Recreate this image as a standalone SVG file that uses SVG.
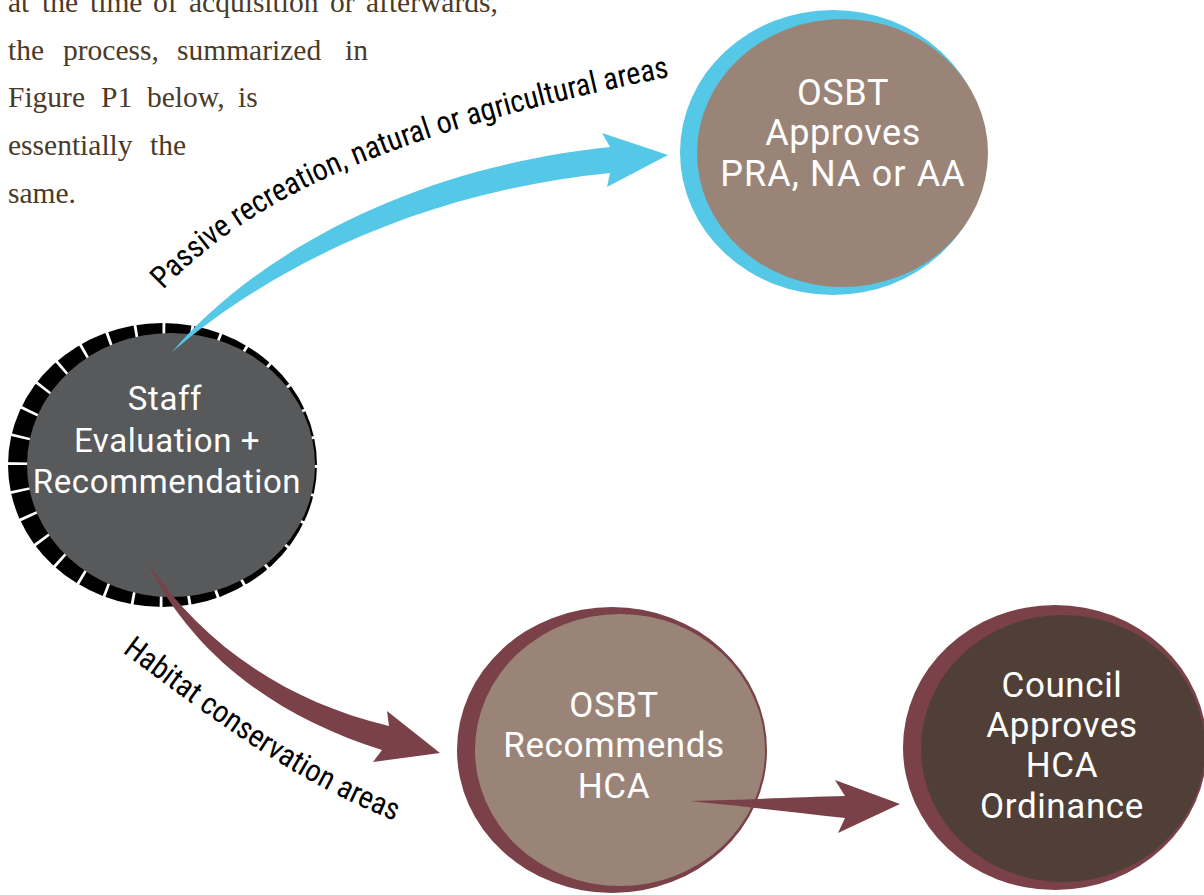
<svg xmlns="http://www.w3.org/2000/svg" width="1204" height="895" viewBox="0 0 1204 895">
  <style>
    .para { font-family: "Liberation Serif", "DejaVu Serif", serif; font-size: 29.5px; fill: #4a3b28; }
    .node-text { font-family: Roboto, "Liberation Sans", sans-serif; fill: #ffffff; text-anchor: middle; letter-spacing: 0.6px; }
    .label { font-family: "Roboto Condensed", Roboto, "Liberation Sans", sans-serif; font-size: 31px; fill: #000000; }
    .blue { fill: #55c8e8; }
    .maroon { fill: #7a4148; }
    .tan { fill: #9a8478; }
  </style>
  <rect width="1204" height="895" fill="#ffffff"/>

  <g id="paragraph" class="para">
    <text y="12"><tspan x="8">at</tspan><tspan x="42">the</tspan><tspan x="90">time</tspan><tspan x="153">of</tspan><tspan x="189">acquisition</tspan><tspan x="330">or</tspan><tspan x="366">afterwards,</tspan></text>
    <text y="60"><tspan x="8">the</tspan><tspan x="63">process,</tspan><tspan x="177">summarized</tspan><tspan x="345">in</tspan></text>
    <text y="107"><tspan x="8">Figure</tspan><tspan x="101">P1</tspan><tspan x="147">below,</tspan><tspan x="238">is</tspan></text>
    <text y="155"><tspan x="8">essentially</tspan><tspan x="150">the</tspan></text>
    <text y="203"><tspan x="8">same.</tspan></text>
  </g>

  <g id="node-staff">
    <ellipse cx="162.5" cy="465" rx="154.5" ry="142" fill="#000000"/>
    <ellipse cx="162.5" cy="465" rx="154.5" ry="142" fill="none" stroke="#ffffff" stroke-width="44" pathLength="32" stroke-dasharray="0.1 0.9"/>
    <ellipse cx="171" cy="465" rx="144" ry="132" fill="#58595b"/>
    <text class="node-text" font-size="33"><tspan x="165" y="410">Staff</tspan><tspan x="167" y="452">Evaluation +</tspan><tspan x="167" y="493">Recommendation</tspan></text>
  </g>

  <g id="node-osbt-approves">
    <ellipse cx="833" cy="152.5" rx="153" ry="142.5" class="blue"/>
    <ellipse cx="842.5" cy="153" rx="145.5" ry="134" class="tan"/>
    <text class="node-text" font-size="36"><tspan x="843" y="105">OSBT</tspan><tspan x="843" y="145">Approves</tspan><tspan x="843" y="186" letter-spacing="1.1">PRA, NA or AA</tspan></text>
  </g>

  <g id="node-osbt-recommends">
    <ellipse cx="612" cy="750" rx="155" ry="143" class="maroon"/>
    <ellipse cx="620" cy="750" rx="145" ry="136" class="tan"/>
    <text class="node-text" font-size="35"><tspan x="614" y="717">OSBT</tspan><tspan x="614" y="757">Recommends</tspan><tspan x="614" y="798">HCA</tspan></text>
  </g>

  <g id="node-council">
    <ellipse cx="1055" cy="747.5" rx="152" ry="142.5" class="maroon"/>
    <ellipse cx="1063" cy="748.5" rx="142" ry="133.5" fill="#4f3f37"/>
    <text class="node-text" font-size="35"><tspan x="1062" y="697">Council</tspan><tspan x="1062" y="737">Approves</tspan><tspan x="1062" y="777">HCA</tspan><tspan x="1062" y="818">Ordinance</tspan></text>
  </g>

  <g id="connectors">
    <defs>
      <path id="lp1" d="M163,290 C250,200 380,135 678,75"/>
      <path id="lp2" d="M122,652 C200,710 290,780 393,820"/>
    </defs>
    <path class="blue" d="M172,352 C255,255 410,168 610,147 L602,133 L668,155 L607,187 L610,173 C420,192 270,268 172,352 Z"/>
    <path class="maroon" d="M147,562 C200,640 280,700 389,726 L387,711 L440,753 L373,762 L382,750 C270,715 190,650 147,562 Z"/>
    <path class="maroon" d="M690,801 C740,800 800,797 845,796 L835,780 L900,804 L838,833 L845,818 C790,812 740,806 690,801 Z"/>
    <text class="label"><textPath href="#lp1" textLength="558" lengthAdjust="spacingAndGlyphs">Passive recreation, natural or agricultural areas</textPath></text>
    <text class="label"><textPath href="#lp2" textLength="322" lengthAdjust="spacingAndGlyphs">Habitat conservation areas</textPath></text>
  </g>
</svg>
